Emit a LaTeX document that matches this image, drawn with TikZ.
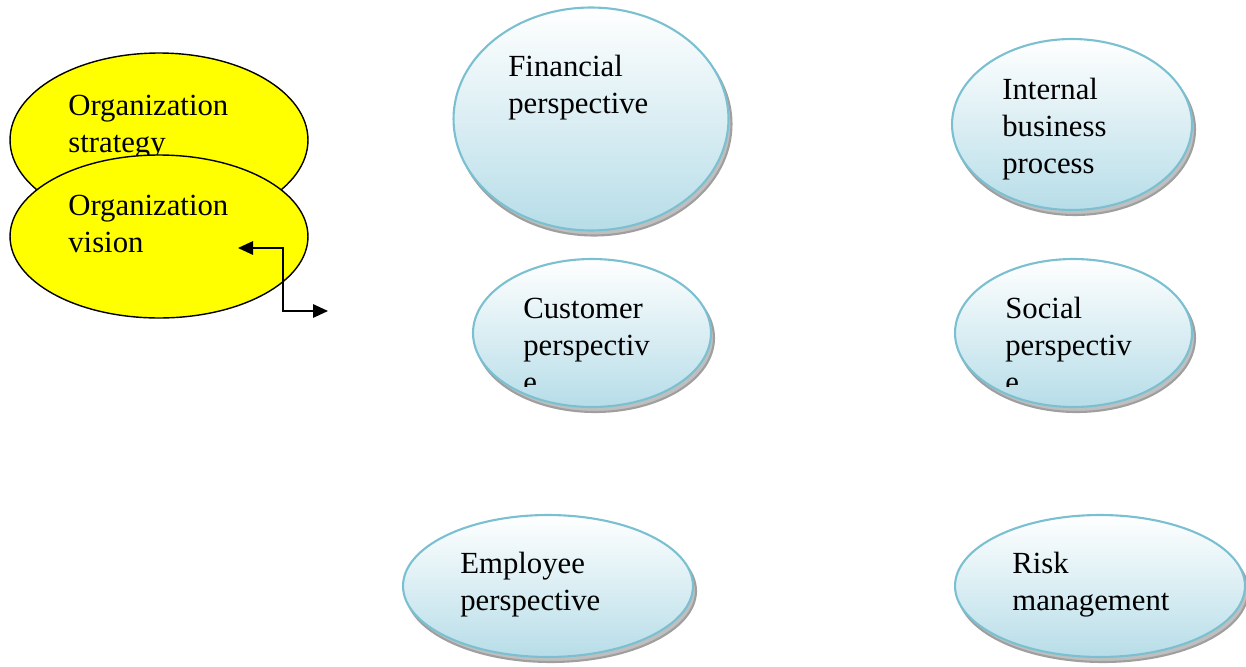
\documentclass[tikz,border=0pt]{standalone}
\usepackage{fontspec}
\setmainfont{Liberation Serif}
\usetikzlibrary{shapes.geometric, shadows, arrows.meta}
\definecolor{bline}{RGB}{123,192,209}
\definecolor{bfill}{RGB}{183,221,232}
\definecolor{yfill}{RGB}{255,255,0}
\begin{document}
\begin{tikzpicture}[x=0.02cm, y=-0.02cm,
	yel/.style={draw,shape=ellipse,fill=yfill,line width=0.8pt,inner sep=0},
	blu/.style={draw=bline,shape=ellipse,line width=1.2pt,inner sep=0,top color=white,bottom color=bfill,
	drop shadow={shadow xshift=0.06cm,shadow yshift=-0.1cm,fill=gray!50,draw=gray!75,opacity=1}},
	txt/.style={anchor=base west,align=left,inner sep=0,font=\fontsize{17.5}{21}\selectfont}]
\useasboundingbox (0,0) rectangle (1246,666);
\node[yel, minimum width=5.96cm, minimum height=3.48cm] (0) at (159,140) {};
\node[txt] (1) at (68,152) {Organization\\strategy};
\node[yel, minimum width=5.96cm, minimum height=3.26cm] (2) at (159,236.5) {};
\node[txt] (3) at (68,252) {Organization\\vision};
\node[blu, minimum width=5.5cm, minimum height=4.46cm] (4) at (591,119) {};
\node[txt] (5) at (508,113) {Financial\\perspective};
\node[blu, minimum width=4.8cm, minimum height=3.42cm] (6) at (1072,124.5) {};
\node[txt] (7) at (1002,173) {Internal\\business\\process};
\node[blu, minimum width=4.76cm, minimum height=2.96cm] (8) at (592,333) {};
\node[blu, minimum width=4.74cm, minimum height=2.96cm] (10) at (1073.5,333) {};
\begin{scope}
\clip (400,250) rectangle (1246,386);
\node[txt] (9) at (523,392) {Customer\\perspectiv\\e};
\node[txt] (11) at (1005,392) {Social\\perspectiv\\e};
\end{scope}
\node[blu, minimum width=5.8cm, minimum height=2.84cm] (12) at (548,586) {};
\node[txt] (13) at (460,610) {Employee\\perspective};
\node[blu, minimum width=5.8cm, minimum height=2.84cm] (14) at (1100,586) {};
\node[txt] (15) at (1012,610) {Risk\\management};
\coordinate (16) at (238,248);
\coordinate (17) at (283,280);
\coordinate (18) at (328,311);
\draw[{Triangle[length=0.3cm,width=0.27cm]}-{Triangle[length=0.3cm,width=0.27cm]}, line width=0.85pt] (16) -| (17) |- (18);
\end{tikzpicture}
\end{document}
